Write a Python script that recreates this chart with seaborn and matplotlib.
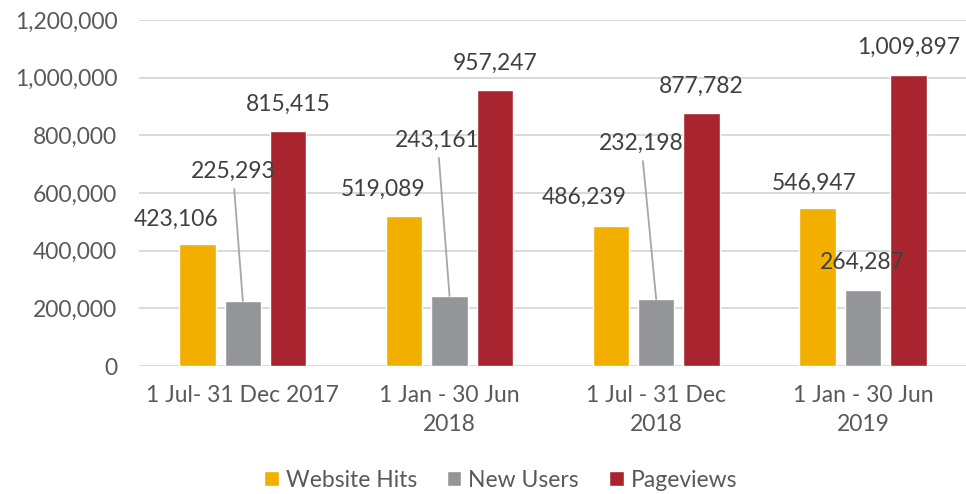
import matplotlib
matplotlib.use("Agg")
import matplotlib.pyplot as plt
import pandas as pd
import seaborn as sns
from matplotlib.ticker import FuncFormatter

# Data
periods = [
    '1 Jul- 31 Dec 2017',
    '1 Jan - 30 Jun\n2018',
    '1 Jul - 31 Dec\n2018',
    '1 Jan - 30 Jun\n2019',
]
series = ['Website Hits', 'New Users', 'Pageviews']
website_hits = [423106, 519089, 486239, 546947]
new_users = [225293, 243161, 232198, 264287]
pageviews = [815415, 957247, 877782, 1009897]

colors = ['#F2AF00', '#939598', '#A8252F']

df = pd.DataFrame({
    'period': periods,
    'Website Hits': website_hits,
    'New Users': new_users,
    'Pageviews': pageviews,
})
long_df = df.melt(id_vars='period', var_name='series', value_name='value')

sns.set_theme(style='white')
plt.rcParams['font.family'] = ['Lato', 'DejaVu Sans']

fig = plt.figure(figsize=(9.66, 4.94), dpi=100)
ax = fig.add_axes([0.1444, 0.2591, 0.8558, 0.7004])

sns.barplot(
    data=long_df, x='period', y='value', hue='series', hue_order=series,
    palette=colors, saturation=1, width=0.66, gap=0.2, errorbar=None, ax=ax,
)

ax.set_xlim(-0.5, 3.5)
ax.set_ylim(0, 1200000)
ax.set_yticks(range(0, 1200001, 200000))
ax.yaxis.set_major_formatter(FuncFormatter(lambda v, _: f'{int(v):,}'))
ax.yaxis.grid(True, color='#d9d9d9', linewidth=1.4)
ax.set_axisbelow(True)
sns.despine(ax=ax, left=True, bottom=True)
ax.set_xlabel('')
ax.set_ylabel('')
ax.tick_params(axis='both', length=0, colors='#595959', labelsize=16.5)
ax.tick_params(axis='y', pad=16)
ax.tick_params(axis='x', pad=14)
for t in ax.get_xticklabels():
    t.set_linespacing(1.45)

# label offsets in pixels (text centre relative to top of bar)
label_shift = [
    [(-21, 25), (-21, 27), (-27, 28), (-3, 25)],
    [(-10, 130), (-12, 156), (-15, 156), (-1, 27)],
    [(0, 27), (0, 27), (0, 27), (0, 27)],
]
for i, cont in enumerate(ax.containers):
    for j, bar in enumerate(cont):
        x = bar.get_x() + bar.get_width() / 2
        h = bar.get_height()
        dx, dy = label_shift[i][j]
        leader = i == 1 and j < 3
        ax.annotate(
            f'{int(round(h)):,}', xy=(x, h), xytext=(dx, dy),
            textcoords='offset pixels', ha='center', va='center',
            fontsize=16.5, color='#404040',
            arrowprops=dict(arrowstyle='-', color='#a6a6a6', lw=1.3,
                            shrinkA=3, shrinkB=0) if leader else None,
        )

handles, labels = ax.get_legend_handles_labels()
ax.legend(
    handles, labels, loc='center', bbox_to_anchor=(0.518, 0.028),
    bbox_transform=fig.transFigure, ncol=3, frameon=False, fontsize=16.5,
    handlelength=0.65, handleheight=0.65, handletextpad=0.3,
    columnspacing=1.3, labelcolor='#595959',
)

fig.savefig('out.png', dpi=100)
